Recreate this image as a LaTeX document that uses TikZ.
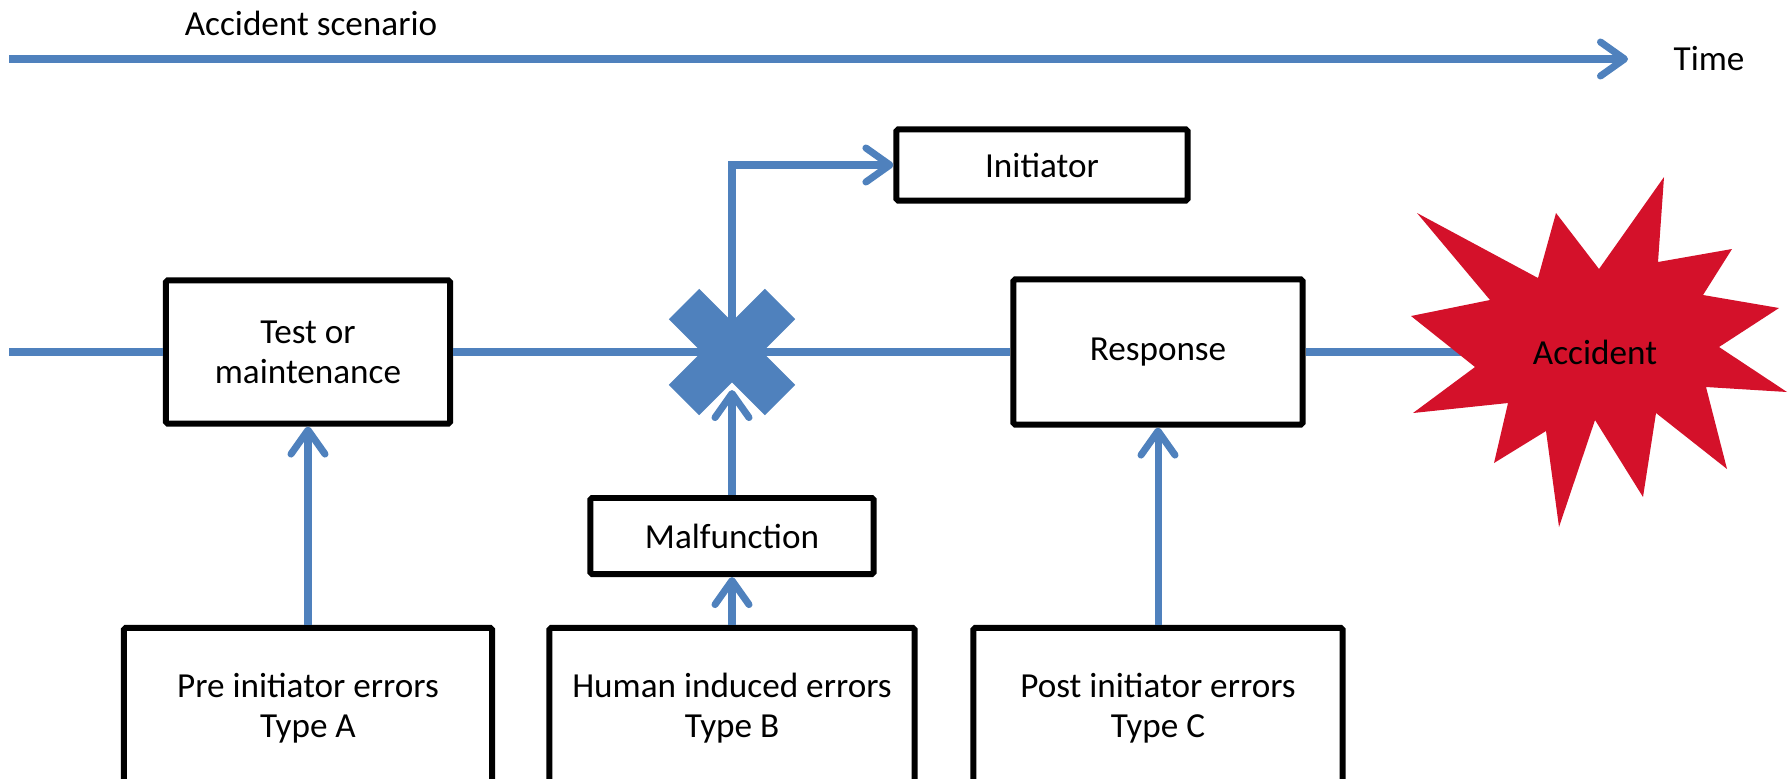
\documentclass[tikz,border=0pt]{standalone}
\usepackage{fontspec}
\setmainfont{Carlito}
\usepackage{xcolor}
\usetikzlibrary{arrows.meta,positioning}
\definecolor{flowblue}{RGB}{79,129,189}
\definecolor{accred}{RGB}{212,17,42}

\begin{document}
\begin{tikzpicture}[x=0.01cm, y=-0.01cm,
    every node/.style={font=\fontsize{10}{11.4}\selectfont},
    box/.style={draw, line width=1.7pt, fill=white, align=center, rounded corners=0.5pt},
    flow/.style={draw=flowblue, line width=2pt},
    flowarrow/.style={flow, -{Straight Barb[round, length=0.24cm, width=0.34cm]}}]
    \useasboundingbox (0,0) rectangle (1791,778);
    \clip (0,0) rectangle (1791,778);

    % time axis
    \coordinate (t0) at (9,59);
    \coordinate (t1) at (1628,59);
    \draw [flowarrow] (t0) -- (t1);
    \node (scenario) at (311,23) {Accident scenario};
    \node (time) at (1709,59) {Time};

    % main line
    \coordinate (start) at (9,352);
    \coordinate (x) at (732,352);
    \coordinate (xin) at (732,390);
    \coordinate (acc) at (1595,352);

    \node [box, minimum width=2.84cm, minimum height=1.43cm] (test) at (308,352) {Test or\\maintenance};
    \node [box, minimum width=2.91cm, minimum height=0.71cm] (init) at (1042,165) {Initiator};
    \node [box, minimum width=2.89cm, minimum height=1.45cm] (resp) at (1158,352) {Response};
    \node [box, minimum width=2.83cm, minimum height=0.76cm] (malf) at (732,536) {Malfunction};
    \node [box, minimum width=3.68cm, minimum height=1.6cm] (pre) at (308,708) {Pre initiator errors\\Type A};
    \node [box, minimum width=3.65cm, minimum height=1.6cm] (human) at (732,708) {Human induced errors\\Type B};
    \node [box, minimum width=3.69cm, minimum height=1.6cm] (post) at (1158,708) {Post initiator errors\\Type C};

    \draw [flow] (start) -- (test);
    \draw [flow] (test) -- (x);
    \draw [flow] (x) -- (resp);
    \draw [flow] (resp) -- (acc);
    \draw [flowarrow] (x) |- (init);

    % the failure cross
    \draw [flowblue, line width=0.43cm] ([shift={(-48,-48)}]x) -- ([shift={(48,48)}]x);
    \draw [flowblue, line width=0.43cm] ([shift={(-48,48)}]x) -- ([shift={(48,-48)}]x);

    \draw [flowarrow] (pre) -- (test);
    \draw [flowarrow] (human) -- (malf);
    \draw [flowarrow] (malf) -- (xin);
    \draw [flowarrow] (post) -- (resp);

    % accident burst
    \fill [accred] (1411,316) -- (1490,300) -- (1417,213) -- (1538,278) -- (1556,213)
        -- (1599,269) -- (1664,177) -- (1658,262) -- (1732,249) -- (1703,295)
        -- (1779,308) -- (1719,347) -- (1787,392) -- (1706,387) -- (1727,469)
        -- (1656,413) -- (1643,497) -- (1595,420) -- (1559,527) -- (1546,431)
        -- (1494,463) -- (1508,403) -- (1413,413) -- (1475,367) -- cycle;
    \node (accident) at (acc) {Accident};
\end{tikzpicture}
\end{document}
